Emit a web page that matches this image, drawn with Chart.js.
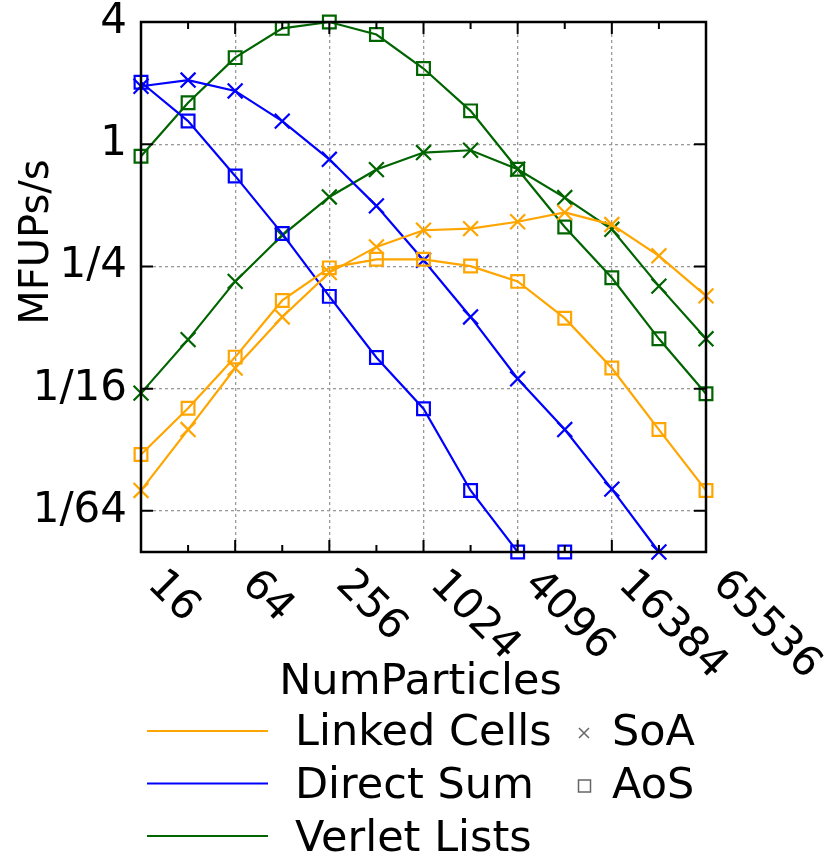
<!DOCTYPE html>
<html>
<head>
<meta charset="utf-8">
<script src="https://cdn.jsdelivr.net/npm/chart.js@4.4.1/dist/chart.umd.min.js"></script>
<style>
  body { margin: 0; background: #fff; }
  canvas { display: block; }
</style>
</head>
<body>
<canvas id="perfChart" width="834" height="856"></canvas>
<script>
// values (MFUPs/s per number of particles)
const numParticles = [16, 32, 64, 128, 256, 512, 1024, 2048, 4096, 8192, 16384, 32768, 65536]

const linkedCellsSoA = [0.0197, 0.0393, 0.079, 0.141, 0.233, 0.312, 0.377, 0.384, 0.415, 0.461, 0.402, 0.282, 0.179]
const linkedCellsAoS = [0.0296, 0.050, 0.0894, 0.170, 0.246, 0.271, 0.271, 0.251, 0.211, 0.139, 0.079, 0.0393, 0.0197]
const directSumSoA = [1.93, 2.07, 1.83, 1.30, 0.843, 0.497, 0.268, 0.141, 0.0699, 0.0393, 0.020, 0.0098, null]
const directSumAoS = [2.02, 1.30, 0.698, 0.363, 0.178, 0.089, 0.0498, 0.0197, 0.0098, 0.0098, null, null, null]
const verletSoA = [0.0594, 0.109, 0.211, 0.356, 0.55, 0.75, 0.91, 0.934, 0.753, 0.546, 0.381, 0.2, 0.110]
const verletAoS = [0.872, 1.6, 2.67, 3.72, 4.0, 3.47, 2.36, 1.46, 0.753, 0.391, 0.22, 0.110, 0.059]

const xTickValues = [16, 64, 256, 1024, 4096, 16384, 65536]
const xMinorTicks = [32, 128, 512, 2048, 8192, 32768]
const yTickValues = [1/64, 1/16, 1/4, 1, 4]
const yTickLabels = ['1/64', '1/16', '1/4', '1', '4']

const orange = '#ffa500'
const blue = '#0000ff'
const green = '#006400'
const fontName = 'DejaVu Sans'

Chart.defaults.font.family = fontName
Chart.defaults.color = '#000'

function series(data, color, style) {
  return {
    data: data,
    borderColor: color,
    borderWidth: 2.2,
    pointStyle: style,
    pointRadius: style == 'rect' ? 9 : 10.5,
    pointBorderWidth: 2.2,
    pointBorderColor: color,
    pointBackgroundColor: 'rgba(0,0,0,0)',
    pointHoverRadius: 0,
    fill: false,
    tension: 0,
    clip: false
  }
}

// gnuplot-like frame, tick marks, rotated x labels, titles and key
const decorations = {
  id: 'decorations',
  afterDraw(chart) {
    const ctx = chart.ctx
    const a = chart.chartArea
    const xs = chart.scales.x
    const ys = chart.scales.y

    ctx.save()
    ctx.strokeStyle = '#000'
    ctx.lineWidth = 2
    ctx.beginPath()
    xTickValues.forEach((v) => {
      let px = xs.getPixelForValue(v)
      ctx.moveTo(px, a.bottom); ctx.lineTo(px, a.bottom - 12)
      ctx.moveTo(px, a.top); ctx.lineTo(px, a.top + 12)
    })
    xMinorTicks.forEach((v) => {
      let px = xs.getPixelForValue(v)
      ctx.moveTo(px, a.bottom); ctx.lineTo(px, a.bottom - 7)
      ctx.moveTo(px, a.top); ctx.lineTo(px, a.top + 7)
    })
    yTickValues.forEach((v) => {
      let py = ys.getPixelForValue(v)
      ctx.moveTo(a.left, py); ctx.lineTo(a.left + 12, py)
      ctx.moveTo(a.right, py); ctx.lineTo(a.right - 12, py)
    })
    ctx.stroke()

    ctx.lineWidth = 2.5
    ctx.strokeRect(a.left, a.top, a.right - a.left, a.bottom - a.top)

    // x tick labels, turned 45 degrees clockwise
    ctx.fillStyle = '#000'
    ctx.font = '42px "' + fontName + '"'
    ctx.textAlign = 'left'
    ctx.textBaseline = 'middle'
    xTickValues.forEach((v) => {
      let px = xs.getPixelForValue(v)
      ctx.save()
      ctx.translate(px + 13, a.bottom + 26)
      ctx.rotate(Math.PI / 4)
      ctx.fillText(String(v), 0, 0)
      ctx.restore()
    })

    // axis titles
    ctx.font = '43px "' + fontName + '"'
    ctx.textAlign = 'center'
    ctx.fillText('NumParticles', (a.left + a.right) / 2 - 3, 683)

    ctx.save()
    ctx.font = '40px "' + fontName + '"'
    ctx.translate(38, 242)
    ctx.rotate(-Math.PI / 2)
    ctx.fillText('MFUPs/s', 0, 0)
    ctx.restore()

    // key
    const keyRows = [['Linked Cells', orange], ['Direct Sum', blue], ['Verlet Lists', green]]
    ctx.font = '43px "' + fontName + '"'
    ctx.textAlign = 'left'
    ctx.textBaseline = 'alphabetic'
    keyRows.forEach((row, i) => {
      let ly = 731 + i * 52.5
      ctx.strokeStyle = row[1]
      ctx.lineWidth = 2.2
      ctx.beginPath()
      ctx.moveTo(147, ly); ctx.lineTo(268, ly)
      ctx.stroke()
      ctx.fillText(row[0], 295, 745 + i * 53)
    })
    ctx.fillText('SoA', 612, 745)
    ctx.fillText('AoS', 612, 798)

    ctx.strokeStyle = '#666'
    ctx.lineWidth = 1.5
    ctx.beginPath()
    ctx.moveTo(579, 728); ctx.lineTo(589, 738)
    ctx.moveTo(589, 728); ctx.lineTo(579, 738)
    ctx.stroke()
    ctx.strokeRect(578.5, 780, 12, 12)
    ctx.restore()
  }
}

window.onload = function () {
  const el = document.getElementById('perfChart')

  new Chart(el, {
    type: 'line',
    data: {
      labels: numParticles,
      datasets: [
        series(linkedCellsSoA, orange, 'crossRot'),
        series(linkedCellsAoS, orange, 'rect'),
        series(directSumSoA, blue, 'crossRot'),
        series(directSumAoS, blue, 'rect'),
        series(verletSoA, green, 'crossRot'),
        series(verletAoS, green, 'rect')
      ]
    },
    options: {
      responsive: false,
      animation: false,
      events: [],
      layout: { padding: { left: 0, right: 128, top: 22, bottom: 0 } },
      plugins: {
        legend: { display: false },
        tooltip: { enabled: false }
      },
      scales: {
        x: {
          type: 'logarithmic',
          min: 16,
          max: 65536,
          afterBuildTicks: (scale) => {
            scale.ticks = xTickValues.map(v => ({ value: v }))
          },
          afterFit: (scale) => {
            scale.height = 856 - 552
            scale.paddingLeft = 0
            scale.paddingRight = 0
          },
          ticks: { display: false },
          // border.dash is what dashes the grid lines in v4
          border: { display: false, dash: [3, 3] },
          grid: {
            color: '#999',
            lineWidth: 1.3,
            drawTicks: false
          }
        },
        y: {
          type: 'logarithmic',
          min: 0.0098,
          max: 4,
          afterBuildTicks: (scale) => {
            scale.ticks = yTickValues.map(v => ({ value: v }))
          },
          afterFit: (scale) => {
            scale.width = 141
            scale.paddingTop = 0
            scale.paddingBottom = 0
          },
          ticks: {
            padding: 14,
            font: { size: 42, lineHeight: 1 },
            callback: (value, index) => yTickLabels[index]
          },
          border: { display: false, dash: [3, 3] },
          grid: {
            color: '#999',
            lineWidth: 1.3,
            drawTicks: false
          }
        }
      }
    },
    plugins: [decorations]
  })
}
</script>
</body>
</html>
